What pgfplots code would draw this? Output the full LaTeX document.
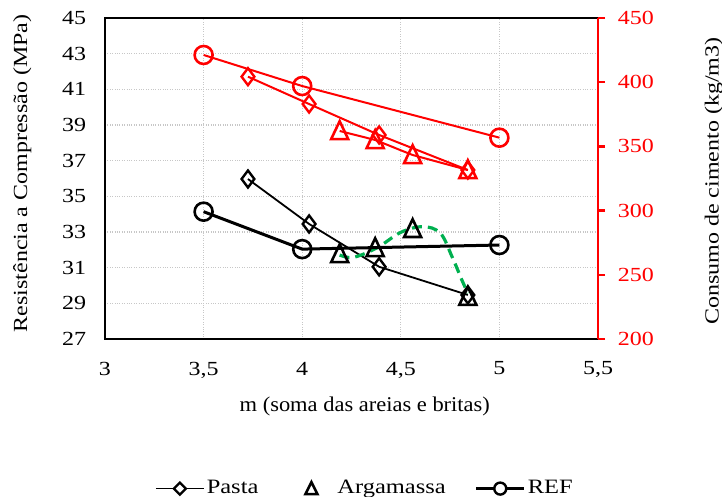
\documentclass[border=0pt]{standalone}
\usepackage{fontspec}
\setmainfont{Liberation Serif}[FakeStretch=1.2]
\newfontfamily\xlfont{Liberation Serif}[FakeStretch=1.07]
\usepackage{pgfplots}
\pgfplotsset{compat=1.18}
\definecolor{ggreen}{RGB}{0,176,80}
\newcommand{\ff}{\fontsize{20}{24}\selectfont}
\newcommand{\lf}{\fontsize{20.4}{24}\selectfont}
\newcommand{\xf}{\xlfont\fontsize{21}{25}\selectfont}
\pgfdeclareplotmark{tri}{%
  \pgfpathmoveto{\pgfqpoint{0pt}{1.15\pgfplotmarksize}}%
  \pgfpathlineto{\pgfqpoint{1\pgfplotmarksize}{-0.95\pgfplotmarksize}}%
  \pgfpathlineto{\pgfqpoint{-1\pgfplotmarksize}{-0.95\pgfplotmarksize}}%
  \pgfpathclose\pgfusepathqstroke}
\begin{document}
\ff
\begin{tikzpicture}
\path[use as bounding box] (-105pt,-158pt) rectangle ++(722pt,497pt);
\begin{axis}[name=ax1, at={(0,0)}, anchor=south west, scale only axis, width=493pt, height=321pt,
  xmin=3, xmax=5.5, ymin=27, ymax=45,
  xtick={3,3.5,4,4.5,5,5.5}, xticklabels={3,{3,5},4,{4,5},5,{5,5}},
  ytick={27,29,...,45},
  grid=major, grid style={dotted, black!22, line width=1.3pt},
  axis line style={line width=2.5pt},
  tick style={draw=none},
  /pgf/number format/assume math mode=true,
  tick label style={font=\ff},
  label style={font=\ff},
  xticklabel style={yshift=-16pt},
  yticklabel style={xshift=-12pt},
  xlabel={m (soma das areias e britas)},
  xlabel style={font=\xf, at={(axis description cs:0.527,-0.21)}, anchor=center},
  ylabel={Resistência a Compressão (MPa)},
  ylabel style={at={(axis description cs:-0.168,0.516)}, anchor=center},
  legend style={draw=none, font=\lf, at={(axis description cs:0.527,-0.466)}, anchor=center, legend columns=3,
    /tikz/every even column/.append style={column sep=27pt}},
]
% Pasta (black)
\addplot[black, line width=1.8pt, mark=diamond, mark size=8.5pt, mark options={solid, line width=2.4pt}, forget plot]
  coordinates {(3.725,35.97) (4.035,33.45) (4.39,31.05) (4.84,29.47)};
% Argamassa trend (green dashed)
\addplot[ggreen, line width=3.2pt, dash pattern=on 10pt off 6pt, smooth, tension=0.6, forget plot]
  coordinates {(4.19,31.71) (4.26,31.58) (4.38,32.12) (4.50,32.98) (4.61,33.30) (4.70,32.94) (4.76,31.61) (4.81,30.3) (4.84,29.57)};
% Argamassa (black)
\addplot[black, only marks, mark=tri, mark size=8.5pt, mark options={line width=2.6pt}, forget plot]
  coordinates {(4.19,31.76) (4.37,32.1) (4.56,33.17) (4.84,29.37)};
% REF (black)
\addplot[black, line width=3pt, mark=o, mark size=9pt, mark options={solid, line width=2.6pt}, forget plot]
  coordinates {(3.5,34.14) (4.0,32.04) (5.0,32.27)};
% legend
\addlegendimage{legend image code/.code={
  \draw[black, line width=1.8pt] (0pt,0pt) -- (48pt,0pt);
  \draw[black, line width=2.4pt, fill=white] (24pt,0pt) +(-6pt,0) -- +(0,6pt) -- +(6pt,0) -- +(0,-6pt) -- cycle;}}
\addlegendentry{Pasta}
\addlegendimage{legend image code/.code={
  \path[draw=none] (0pt,0pt) -- (48pt,0pt);
  \draw[black, line width=2.6pt] (24pt,0pt) +(-6pt,-5.5pt) -- +(6pt,-5.5pt) -- +(0,6.5pt) -- cycle;}}
\addlegendentry{Argamassa}
\addlegendimage{legend image code/.code={
  \draw[black, line width=3pt] (0pt,0pt) -- (48pt,0pt);
  \draw[black, line width=2.4pt, fill=white] (24pt,0pt) circle (6pt);}}
\addlegendentry{REF}
\end{axis}
\begin{axis}[at={(0,0)}, anchor=south west, scale only axis, width=493pt, height=321pt,
  xmin=3, xmax=5.5, ymin=200, ymax=450,
  axis x line=none, axis y line*=right,
  ytick={200,250,...,450},
  y axis line style={red, line width=2.8pt},
  ytick style={red, line width=2.5pt},
  tick align=outside, major tick length=7pt,
  yticklabel style={red, font=\ff, xshift=6pt},
  /pgf/number format/assume math mode=true,
  ylabel={Consumo de cimento (kg/m3)},
  ylabel style={font=\ff, at={(axis description cs:1.235,0.492)}, anchor=center, rotate=0},
]
\addplot[red, line width=2pt, mark=diamond, mark size=8.5pt, mark options={solid, line width=2.4pt}]
  coordinates {(3.725,404.3) (4.035,383) (4.39,358.9) (4.84,331.6)};
\addplot[red, line width=2pt, mark=tri, mark size=8.5pt, mark options={solid, line width=2.6pt}]
  coordinates {(4.19,362) (4.37,355) (4.56,343.3) (4.84,331.6)};
\addplot[red, line width=2pt, mark=o, mark size=9pt, mark options={solid, line width=2.6pt}]
  coordinates {(3.5,421.2) (4.0,397) (5.0,356.8)};
\end{axis}
\end{tikzpicture}
\end{document}
